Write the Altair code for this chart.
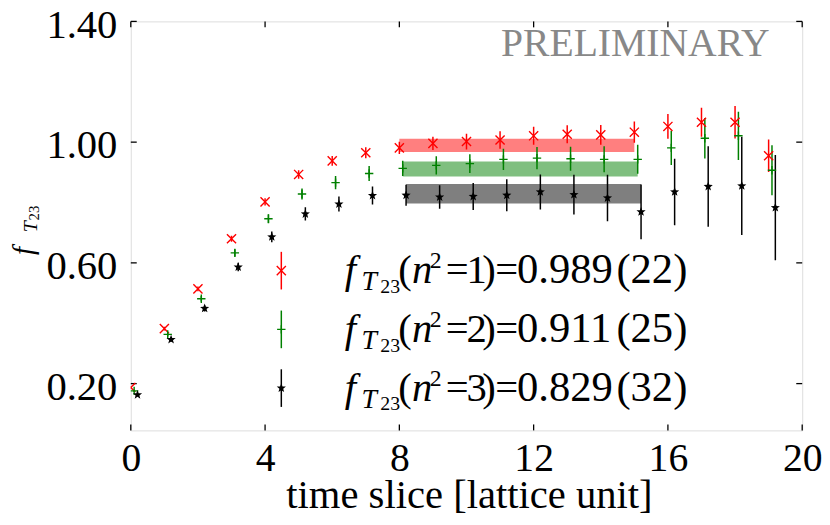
import altair as alt
import pandas as pd
import numpy as np

# ---------------- data ----------------
t_slices = list(range(20))
series_names = ["n2=1", "n2=2", "n2=3"]
series_offsets = [0.0, 0.1, 0.2]
series_colors = ["#ff0000", "#008000", "#000000"]

f_n1 = [0.187, 0.382, 0.514, 0.680, 0.802, 0.893, 0.938, 0.965, 0.981, 0.996,
        1.002, 1.007, 1.021, 1.026, 1.024, 1.033, 1.052, 1.066, 1.066, 0.955]
e_n1 = [0.004, 0.006, 0.008, 0.010, 0.012, 0.014, 0.016, 0.018, 0.020, 0.022,
        0.026, 0.029, 0.030, 0.030, 0.033, 0.035, 0.041, 0.048, 0.054, 0.054]
f_n2 = [0.176, 0.363, 0.481, 0.633, 0.746, 0.828, 0.866, 0.896, 0.913, 0.923,
        0.929, 0.943, 0.947, 0.945, 0.943, 0.943, 0.981, 1.013, 1.021, 0.907]
e_n2 = [0.004, 0.007, 0.009, 0.012, 0.015, 0.018, 0.022, 0.025, 0.025, 0.030,
        0.031, 0.035, 0.037, 0.040, 0.043, 0.048, 0.057, 0.067, 0.080, 0.083]
f_n3 = [0.163, 0.346, 0.449, 0.586, 0.686, 0.762, 0.795, 0.823, 0.824, 0.818,
        0.820, 0.824, 0.835, 0.826, 0.815, 0.769, 0.835, 0.853, 0.855, 0.783]
e_n3 = [0.004, 0.007, 0.010, 0.014, 0.018, 0.022, 0.025, 0.030, 0.035, 0.039,
        0.045, 0.053, 0.058, 0.066, 0.077, 0.091, 0.110, 0.133, 0.163, 0.174]

fit_center = [0.989, 0.911, 0.829]
fit_err = [0.022, 0.025, 0.032]
fit_range = [8, 15]

labels_n2 = ["1", "2", "3"]
labels_val = ["0.989", "0.911", "0.829"]
labels_err = ["(22)", "(25)", "(32)"]

x_ticks = [0, 4, 8, 12, 16, 20]
y_ticks = [0.20, 0.60, 1.00, 1.40]

# ---------------- layout / style ----------------
FONT = "Liberation Serif"
TOP = 19            # page y of plot top
W, H = 678, 432 - TOP
FS = 41

xscale = alt.Scale(domain=[0, 20], nice=False, zero=False)
yscale = alt.Scale(domain=[0.045, 1.40], nice=False, zero=False)
cscale = alt.Scale(domain=series_names, range=series_colors)

xaxis = alt.Axis(values=x_ticks, format="d", labelFont=FONT, labelFontSize=40,
                 labelColor="black", labelPadding=9, ticks=False, tickSize=0,
                 domain=False, grid=False, labelFlush=False, labelOverlap=False,
                 labelBound=False)
yaxis = alt.Axis(values=y_ticks, format=".2f", labelFont=FONT, labelFontSize=FS,
                 labelColor="black", labelPadding=14, labelOffset=4, ticks=False,
                 tickSize=0, domain=False, grid=False, labelFlush=False,
                 labelOverlap=False, labelBound=False)


def X(f):
    return alt.X(f"{f}:Q", scale=xscale, axis=xaxis, title=None)


def Y(f):
    return alt.Y(f"{f}:Q", scale=yscale, axis=yaxis, title=None)


rows = []
for name, off, fv, ev in zip(series_names, series_offsets,
                             [f_n1, f_n2, f_n3], [e_n1, e_n2, e_n3]):
    for t, v, e in zip(t_slices, fv, ev):
        rows.append({"series": name, "x": t + off, "y": v, "lo": v - e, "hi": v + e})
pts = pd.DataFrame(rows)

bands = pd.DataFrame({
    "series": series_names,
    "x0": [fit_range[0] + o for o in series_offsets],
    "x1": [fit_range[1] + o for o in series_offsets],
    "lo": [c - e for c, e in zip(fit_center, fit_err)],
    "hi": [c + e for c, e in zip(fit_center, fit_err)],
})


def star_path():
    p = []
    for k in range(10):
        a = np.deg2rad(-90 + 36 * k)
        r = 1.0 if k % 2 == 0 else 0.42
        p.append(f"{r*np.cos(a):.3f},{r*np.sin(a):.3f}")
    return "M" + "L".join(p) + "Z"


shapes = ["M-1,-1L1,1M-1,1L1,-1", "M-1,0L1,0M0,-1L0,1", star_path()]
sizes = [85, 72, 95]
filled = [False, False, True]

layers = []

# inward ticks (gnuplot style), all four sides
xt = pd.DataFrame({"v": x_ticks})
yt = pd.DataFrame({"v": y_ticks})
tick_style = dict(color="black", strokeWidth=1.3)
layers.append(alt.Chart(xt).mark_rule(**tick_style).encode(
    x=X("v"), y=alt.value(H), y2=alt.value(H - 6)))
layers.append(alt.Chart(xt).mark_rule(**tick_style).encode(
    x=X("v"), y=alt.value(0), y2=alt.value(6)))
layers.append(alt.Chart(yt).mark_rule(**tick_style).encode(
    y=Y("v"), x=alt.value(0), x2=alt.value(6)))
layers.append(alt.Chart(yt).mark_rule(**tick_style).encode(
    y=Y("v"), x=alt.value(W - 6), x2=alt.value(W)))

# fit bands
layers.append(alt.Chart(bands).mark_rect(opacity=0.5).encode(
    x=X("x0"), x2="x1", y=Y("lo"), y2="hi",
    color=alt.Color("series:N", scale=cscale, legend=None)))

# error bars
layers.append(alt.Chart(pts).mark_rule(strokeWidth=1.5, clip=True).encode(
    x=X("x"), y=Y("lo"), y2="hi",
    color=alt.Color("series:N", scale=cscale, legend=None)))

# points
for i, name in enumerate(series_names):
    sub = pts[pts.series == name]
    layers.append(alt.Chart(sub).mark_point(
        shape=shapes[i], size=sizes[i], filled=filled[i], color=series_colors[i],
        strokeWidth=1.4, opacity=1, clip=True).encode(x=X("x"), y=Y("y")))

# ---------------- key ----------------
leg = pd.DataFrame({"series": series_names, "row": [0, 1, 2],
                    "n2": labels_n2, "val": labels_val, "err": labels_err})
LEG_X = 152
LEG_Y0 = 270.7 - TOP
LEG_DY = 59.3
LEG_HALF = 19
BASE_SHIFT = 12.6


def leg_chart():
    return alt.Chart(leg).transform_calculate(
        ly=f"{LEG_Y0} + datum.row * {LEG_DY}",
        ly_lo=f"{LEG_Y0} + datum.row * {LEG_DY} - {LEG_HALF}",
        ly_hi=f"{LEG_Y0} + datum.row * {LEG_DY} + {LEG_HALF}",
        tb=f"{LEG_Y0} + datum.row * {LEG_DY} + {BASE_SHIFT}",
    )


layers.append(leg_chart().mark_rule(strokeWidth=1.5).encode(
    x=alt.value(LEG_X),
    y=alt.Y("ly_lo:Q", scale=None, axis=None),
    y2="ly_hi:Q",
    color=alt.Color("series:N", scale=cscale, legend=None)))
for i, name in enumerate(series_names):
    layers.append(leg_chart().transform_filter(f"datum.row == {i}").mark_point(
        shape=shapes[i], size=sizes[i], filled=filled[i], color=series_colors[i],
        strokeWidth=1.4, opacity=1).encode(
        x=alt.value(LEG_X), y=alt.Y("ly:Q", scale=None, axis=None)))


def leg_text(text, x, size=FS, style="normal", dy=0, align="left"):
    return leg_chart().mark_text(
        font=FONT, fontSize=size, fontStyle=style, align=align,
        baseline="alphabetic", dy=dy, color="black").encode(
        x=alt.value(x), y=alt.Y("tb:Q", scale=None, axis=None), text=text)


layers += [
    leg_text(alt.value("f"), 216, style="italic"),
    leg_text(alt.value("T"), 233, size=28, style="italic", dy=7),
    leg_text(alt.value("23"), 252, size=20, dy=10),
    leg_text(alt.value("("), 270),
    leg_text(alt.value("n"), 284, style="italic"),
    leg_text(alt.value("2"), 302, size=24, dy=-15),
    leg_text(alt.value("="), 318),
    leg_text(alt.Text("n2:N"), 339),
    leg_text(alt.value(")"), 355),
    leg_text(alt.value("="), 368),
    leg_text(alt.Text("val:N"), 390, size=43),
    leg_text(alt.Text("err:N"), 562, size=43, align="right"),
]

# ---------------- titles / annotations ----------------
one = pd.DataFrame({"a": [0]})


def note(text, x, y, size, style="normal", align="left", angle=0, color="black"):
    kw = dict(font=FONT, fontSize=size, fontStyle=style, align=align,
              baseline="alphabetic", color=color)
    if angle:
        kw["angle"] = angle
    return alt.Chart(one).mark_text(**kw).encode(
        x=alt.value(x), y=alt.value(y), text=alt.value(text))


layers += [
    note("time slice [lattice unit]", W / 2 + 3, 510 - TOP, FS, align="center"),
    note("PRELIMINARY", 645, 54 - TOP, 40, align="right", color="#888888"),
    note("f", -99, 255 - TOP, 29, style="italic", angle=270),
    note("T", -95, 232 - TOP, 20, style="italic", angle=270),
    note("23", -93, 220 - TOP, 15, angle=270),
]

chart = alt.layer(*layers).properties(
    width=W, height=H,
    autosize=alt.AutoSizeParams(type="none"),
    padding={"left": 124, "top": TOP - 8, "right": 20, "bottom": 517 - (TOP - 8) - H},
).configure_view(stroke="black", strokeWidth=1.5).configure(font=FONT)

chart.save("out.html", embed_options={"renderer": "svg", "actions": False})
